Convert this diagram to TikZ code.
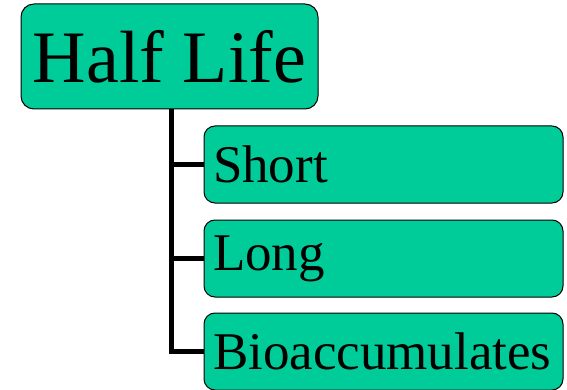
\documentclass[tikz,border=0pt]{standalone}
\usepackage{fontspec}
\setmainfont{Liberation Serif}
\definecolor{boxgreen}{RGB}{0, 204, 153}

\tikzset{
  topbox/.style={draw=black, line width=1pt, fill=boxgreen, rounded corners=13pt,
    minimum width=297pt, minimum height=105pt, inner sep=0pt,
    font=\fontsize{74}{74}\selectfont},
  subbox/.style={draw=black, line width=1pt, fill=boxgreen, rounded corners=11pt,
    text width=341pt, align=left, inner xsep=9pt, inner ysep=0pt,
    minimum height=77pt, font=\fontsize{53}{53}\selectfont},
  branch/.style={black, line width=5pt}
}

\begin{document}
\begin{tikzpicture}
  \useasboundingbox (0,0) rectangle (567pt,-390pt);

  % heading box
  \node[topbox] (half) at (169.5pt,-56.5pt) {\raisebox{-2.5pt}{Half Life}};

  % list entries
  \node[subbox] (short) at (383.5pt,-164.5pt) {Short};
  \node[subbox] (long)  at (383.5pt,-258.5pt) {Long};
  \node[subbox] (bio)   at (383.5pt,-351.5pt) {Bioaccumulates};

  % tree lines
  \coordinate (trunk) at (171pt,0);
  \draw[branch] (half.south -| trunk) |- (bio.west);
  \draw[branch] (trunk |- short.west) -- (short.west);
  \draw[branch] (trunk |- long.west) -- (long.west);
\end{tikzpicture}
\end{document}
